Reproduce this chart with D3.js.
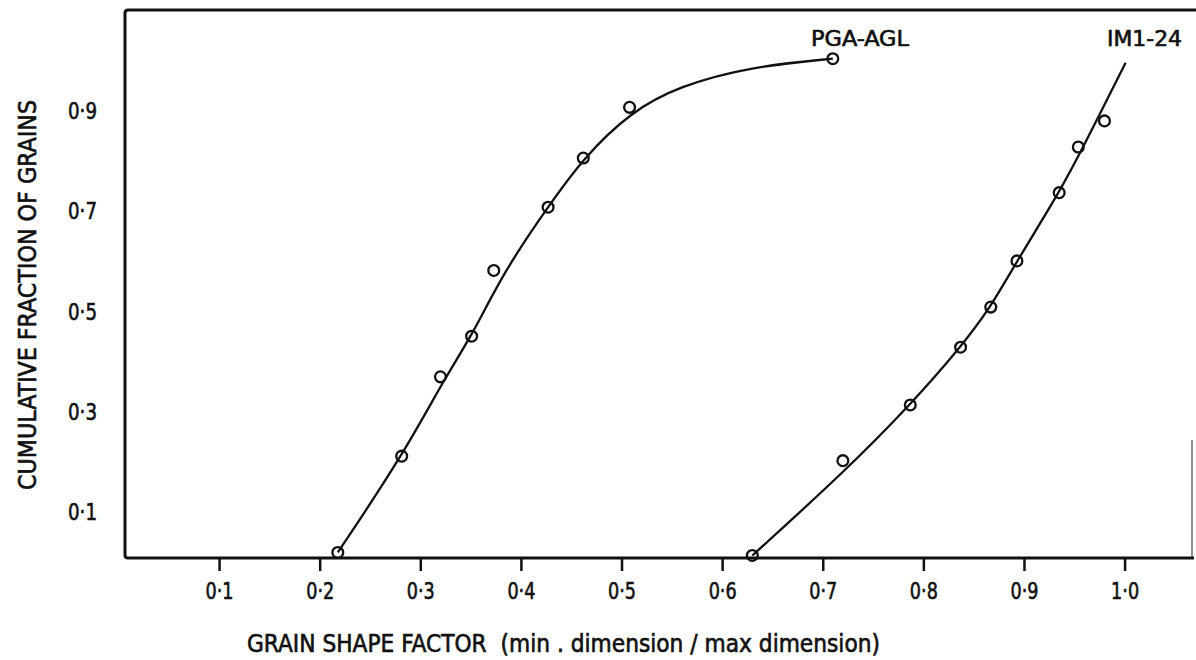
<!DOCTYPE html>
<html>

<head>
    <title>Grain shape factor</title>
    <meta http-equiv="Content-Type" content="text/html;charset=utf-8" />
    <script src="https://cdn.jsdelivr.net/npm/d3@7"></script>
    <style>
        body {
            margin: 0;
            background: white;
        }

        text {
            font-family: "DejaVu Sans Condensed", "DejaVu Sans", sans-serif;
            font-stretch: condensed;
            fill: #111;
            stroke: #111;
            stroke-width: 0.6px;
        }
    </style>
</head>

<body>
    <svg width="1196" height="660" id="mainsvg"></svg>
    <script>
        // measured points (x = shape factor, y = cumulative fraction)
        const pgaX = [0.218, 0.2815, 0.320, 0.351, 0.373, 0.427, 0.462, 0.508, 0.710];
        const pgaY = [0.016, 0.208, 0.366, 0.447, 0.578, 0.704, 0.802, 0.903, 1.000];
        const imX = [0.630, 0.720, 0.787, 0.837, 0.867, 0.893, 0.935, 0.954, 0.980];
        const imY = [0.010, 0.199, 0.310, 0.425, 0.505, 0.597, 0.733, 0.824, 0.876];

        // hand-drawn fitted curves
        const pgaFitX = [0.218, 0.282, 0.325, 0.351, 0.384, 0.427, 0.462, 0.509, 0.558, 0.628, 0.710];
        const pgaFitY = [0.016, 0.208, 0.366, 0.447, 0.579, 0.705, 0.802, 0.894, 0.946, 0.984, 1.000];
        const imFitX = [0.630, 0.720, 0.787, 0.837, 0.867, 0.893, 0.935, 0.959, 1.001];
        const imFitY = [0.010, 0.174, 0.310, 0.425, 0.505, 0.597, 0.733, 0.824, 0.992];

        const xTicks = [0.1, 0.2, 0.3, 0.4, 0.5, 0.6, 0.7, 0.8, 0.9, 1.0];
        const yTicks = [0.1, 0.3, 0.5, 0.7, 0.9];
        const seriesNames = ['PGA-AGL', 'IM1-24'];

        const svg = d3.select('svg');
        const frame = { left: 125, right: 1192, top: 10, bottom: 558 };

        const xScale = d3.scaleLinear().domain([0.0065, 1.067]).range([frame.left, frame.right]);
        const yScale = d3.scaleLinear().domain([0.005, 1.097]).range([frame.bottom, frame.top]);
        const fmt = d => d3.format('.1f')(d).replace('.', '\u00b7');

        // frame: left, top and bottom lines, short piece on the right
        const g = svg.append('g');
        g.append('path')
            .attr('d', `M${frame.left},${frame.top + 3} Q${frame.left},${frame.top} ${frame.left + 3},${frame.top} L${frame.right + 4},${frame.top}`)
            .attr('fill', 'none').attr('stroke', '#111').attr('stroke-width', 3);
        g.append('path')
            .attr('d', `M${frame.left},${frame.top + 3} L${frame.left},${frame.bottom - 3} Q${frame.left},${frame.bottom} ${frame.left + 3},${frame.bottom}`)
            .attr('fill', 'none').attr('stroke', '#111').attr('stroke-width', 3);
        g.append('line').attr('x1', frame.right).attr('x2', frame.right)
            .attr('y1', 440).attr('y2', frame.bottom)
            .attr('stroke', '#444').attr('stroke-width', 1.2);

        // bottom axis
        const xAxis = d3.axisBottom(xScale).tickValues(xTicks).tickSize(13).tickSizeOuter(0).tickFormat(fmt).tickPadding(12);
        const xAxisGroup = g.append('g').attr('transform', `translate(0, ${frame.bottom})`).call(xAxis);
        xAxisGroup.select('.domain').attr('stroke', '#111').attr('stroke-width', 3)
            .attr('d', `M${frame.left + 3},0H${frame.right + 2}`);
        xAxisGroup.selectAll('.tick line').attr('stroke', '#111').attr('stroke-width', 2.5);
        xAxisGroup.selectAll('.tick text').attr('font-size', 23).attr('fill', '#111')
            .attr('font-family', '"DejaVu Sans Condensed", "DejaVu Sans", sans-serif')
            .attr('textLength', 28).attr('lengthAdjust', 'spacingAndGlyphs');

        // left labels (no tick marks in the figure)
        g.selectAll('.ylab').data(yTicks).enter().append('text')
            .attr('class', 'ylab')
            .attr('x', 68).attr('y', d => yScale(d) + 2)
            .attr('dominant-baseline', 'central')
            .attr('font-size', 23)
            .attr('textLength', 29).attr('lengthAdjust', 'spacingAndGlyphs')
            .text(fmt);

        // axis titles
        g.append('text').text('GRAIN SHAPE FACTOR  (min . dimension / max dimension)')
            .attr('x', 247).attr('y', 652)
            .attr('font-size', 24)
            .attr('textLength', 633).attr('lengthAdjust', 'spacingAndGlyphs')
            .style('white-space', 'pre');
        g.append('text').text('CUMULATIVE FRACTION OF GRAINS')
            .attr('transform', 'translate(36, 295) rotate(-90)')
            .attr('text-anchor', 'middle')
            .attr('font-size', 24)
            .attr('textLength', 390).attr('lengthAdjust', 'spacingAndGlyphs');

        // fitted curves
        const line = d3.line().x(d => xScale(d[0])).y(d => yScale(d[1])).curve(d3.curveBasis);
        const fits = [d3.zip(pgaFitX, pgaFitY), d3.zip(imFitX, imFitY)];
        g.selectAll('.fit').data(fits).enter().append('path')
            .attr('class', 'fit')
            .attr('d', line)
            .attr('fill', 'none').attr('stroke', '#111').attr('stroke-width', 2.3);

        // open circles
        const pts = d3.zip(pgaX, pgaY).concat(d3.zip(imX, imY));
        g.selectAll('.pt').data(pts).enter().append('circle')
            .attr('class', 'pt')
            .attr('cx', d => xScale(d[0])).attr('cy', d => yScale(d[1]))
            .attr('r', 5.4)
            .attr('fill', 'none').attr('stroke', '#111').attr('stroke-width', 2.3);

        // curve labels
        g.selectAll('.slab').data(seriesNames).enter().append('text')
            .attr('class', 'slab')
            .attr('x', (d, i) => [811, 1107][i]).attr('y', 46)
            .attr('font-size', 21)
            .attr('textLength', (d, i) => [98, 75][i]).attr('lengthAdjust', 'spacingAndGlyphs')
            .text(d => d);
    </script>
</body>

</html>
